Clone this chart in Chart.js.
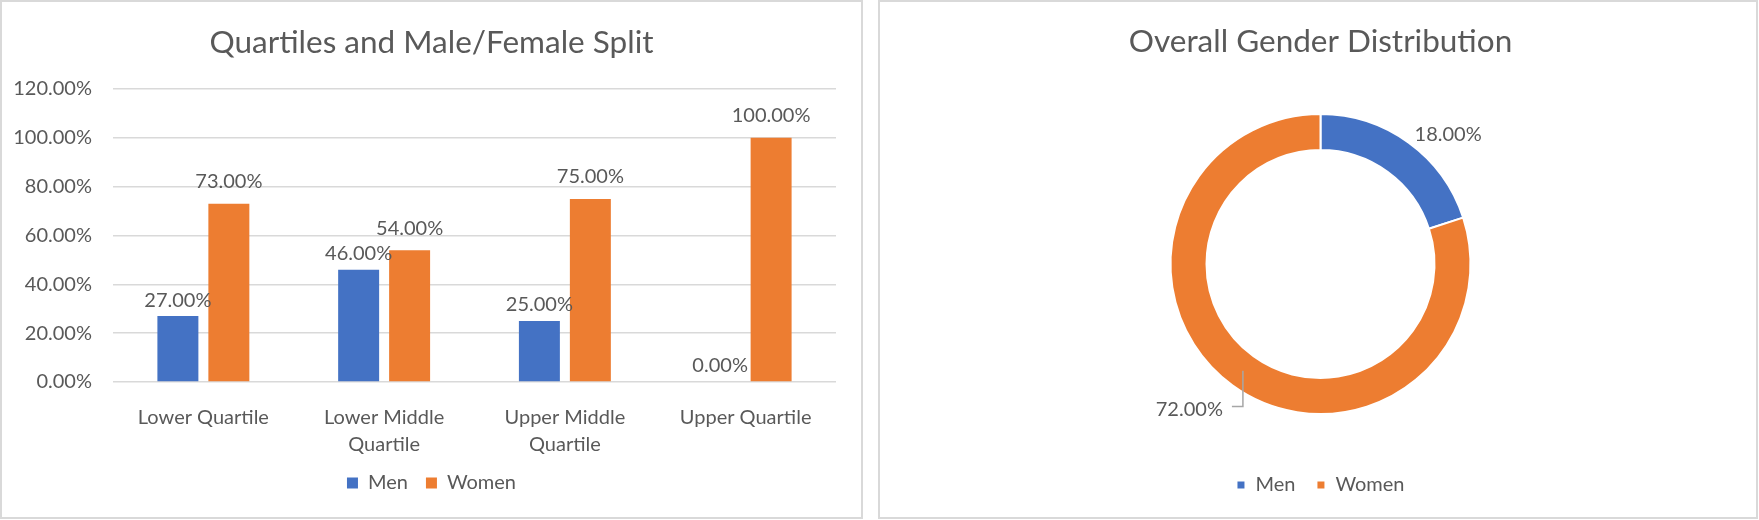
<!DOCTYPE html>
<html>
<head>
<meta charset="utf-8">
<script src="https://cdn.jsdelivr.net/npm/chart.js@4.4.1/dist/chart.umd.min.js"></script>
<style>
  html, body { margin: 0; padding: 0; background: #fff; }
  body { width: 1759px; height: 520px; position: relative; overflow: hidden; }
  .panel { position: absolute; top: 0; height: 519px; box-sizing: border-box; border: 2px solid #d9d9d9; }
  .wrap { position: absolute; top: 0; height: 519px; }
  canvas { display: block; }
</style>
</head>
<body>
<div class="panel" style="left:0;width:863px"></div>
<div class="panel" style="left:878px;width:880px"></div>
<div class="wrap" style="left:0;width:863px"><canvas id="quartiles" width="863" height="519"></canvas></div>
<div class="wrap" style="left:878px;width:880px"><canvas id="overall" width="880" height="519"></canvas></div>
<script>
  // data
  const quartileNames = [['Lower Quartile'], ['Lower Middle', 'Quartile'], ['Upper Middle', 'Quartile'], ['Upper Quartile']]
  const menShare = [27, 46, 25, 0]
  const womenShare = [73, 54, 75, 100]
  const yMax = 120
  const yStep = 20

  const genderNames = ['Men', 'Women']
  const genderShare = [18, 72]

  const blue = '#4472C4'
  const orange = '#ED7D31'
  const textGrey = '#595959'
  const labelSize = 20
  const titleSize = 31.5

  Chart.defaults.font.family = 'Lato, "Open Sans", sans-serif'
  Chart.defaults.color = textGrey

  const pct = v => Number(v).toFixed(2) + '%'

  // value labels sitting above each bar
  const barLabels = {
    id: 'barLabels',
    afterDatasetsDraw(chart, args, opts) {
      const ctx = chart.ctx
      ctx.save()
      ctx.font = opts.size + 'px ' + Chart.defaults.font.family
      ctx.fillStyle = textGrey
      ctx.textAlign = 'center'
      ctx.textBaseline = 'middle'
      chart.data.datasets.forEach((ds, i) => {
        chart.getDatasetMeta(i).data.forEach((bar, j) => {
          ctx.fillText(pct(ds.data[j]), bar.x, bar.y - opts.offsets[i])
        })
      })
      ctx.restore()
    }
  }

  // labels outside the ring, with a leader line on the left side
  const ringLabels = {
    id: 'ringLabels',
    afterDatasetsDraw(chart, args, opts) {
      const ctx = chart.ctx
      const ds = chart.data.datasets[0]
      ctx.save()
      ctx.font = opts.size + 'px ' + Chart.defaults.font.family
      ctx.fillStyle = textGrey
      ctx.strokeStyle = '#a6a6a6'
      ctx.lineWidth = 1.5
      ctx.textBaseline = 'middle'
      chart.getDatasetMeta(0).data.forEach((arc, j) => {
        const p = arc.getProps(['x', 'y', 'startAngle', 'endAngle', 'innerRadius', 'outerRadius'], true)
        const mid = (p.startAngle + p.endAngle) / 2
        const dx = Math.cos(mid)
        const dy = Math.sin(mid)
        const text = pct(ds.data[j])
        if (dx >= 0) {
          ctx.textAlign = 'left'
          ctx.fillText(text, p.x + dx * (p.outerRadius + 10), p.y + dy * (p.outerRadius + 10))
        } else {
          const r = (p.innerRadius + p.outerRadius) / 2
          const sx = p.x + dx * r
          const sy = p.y + dy * r
          const ey = p.y + dy * (p.outerRadius + 26)
          ctx.beginPath()
          ctx.moveTo(sx, sy)
          ctx.lineTo(sx, ey)
          ctx.lineTo(sx - 11, ey)
          ctx.stroke()
          ctx.textAlign = 'right'
          ctx.fillText(text, sx - 20, ey + 3)
        }
      })
      ctx.restore()
    }
  }

  new Chart(document.getElementById('quartiles'), {
    type: 'bar',
    data: {
      labels: quartileNames,
      datasets: [
        { label: 'Men', data: menShare, backgroundColor: blue },
        { label: 'Women', data: womenShare, backgroundColor: orange }
      ]
    },
    options: {
      responsive: false,
      animation: false,
      categoryPercentage: 0.564,
      barPercentage: 0.804,
      layout: { padding: { left: 0, right: 0, top: 0, bottom: 16 } },
      scales: {
        x: {
          grid: { display: false },
          border: { display: false },
          ticks: { padding: 14.5, autoSkip: false, maxRotation: 0, color: textGrey, font: { size: labelSize, lineHeight: 1.35 } },
          afterFit: s => { s.height = 73 }
        },
        y: {
          min: 0,
          max: yMax,
          grid: { color: '#d9d9d9', lineWidth: 1.5, drawTicks: false },
          border: { display: false },
          ticks: { stepSize: yStep, padding: 21, color: textGrey, font: { size: labelSize }, callback: v => pct(v) },
          afterFit: s => { s.width = 113 }
        },
        // empty axis on the right, only keeps the plot off the panel edge
        spacer: {
          type: 'linear',
          position: 'right',
          grid: { display: false },
          border: { display: false },
          ticks: { display: false },
          afterFit: s => { s.width = 27 }
        }
      },
      plugins: {
        title: {
          display: true,
          text: 'Quartiles and Male/Female Split',
          color: textGrey,
          font: { size: titleSize, weight: 'normal', lineHeight: 1.2 },
          padding: { top: 24.1, bottom: 27.1 }
        },
        legend: {
          position: 'bottom',
          labels: { boxWidth: 11, boxHeight: 11, padding: 18, color: textGrey, font: { size: labelSize } }
        },
        tooltip: { enabled: false },
        barLabels: { size: labelSize, offsets: [16, 22] }
      }
    },
    plugins: [barLabels]
  })

  new Chart(document.getElementById('overall'), {
    type: 'doughnut',
    data: {
      labels: genderNames,
      datasets: [{ data: genderShare, backgroundColor: [blue, orange], borderColor: '#ffffff', borderWidth: 2 }]
    },
    options: {
      responsive: false,
      animation: false,
      cutout: '76%',
      layout: { padding: { left: 5, right: 0, top: 0, bottom: 14 } },
      plugins: {
        title: {
          display: true,
          text: 'Overall Gender Distribution',
          color: textGrey,
          font: { size: titleSize, weight: 'normal', lineHeight: 1.2 },
          padding: { top: 23.1, bottom: 52.1 }
        },
        legend: {
          position: 'bottom',
          title: { display: true, text: '', padding: 0, font: { size: 39, lineHeight: 1 } },
          labels: { boxWidth: 9, boxHeight: 9, padding: 21, color: textGrey, font: { size: labelSize } }
        },
        tooltip: { enabled: false },
        ringLabels: { size: labelSize }
      }
    },
    plugins: [ringLabels]
  })
</script>
</body>
</html>
